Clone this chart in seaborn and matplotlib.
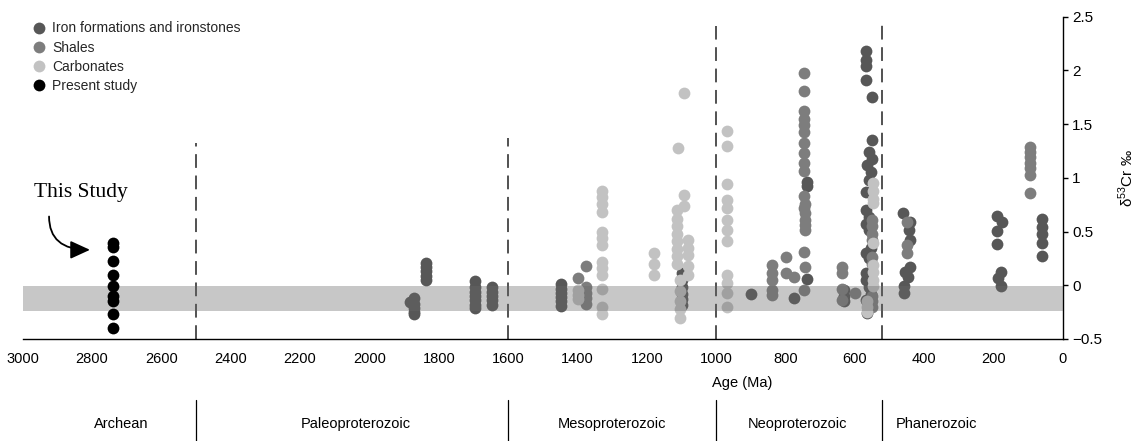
import numpy as np
import pandas as pd
import matplotlib
matplotlib.use("Agg")
import matplotlib.pyplot as plt
from matplotlib.lines import Line2D
import seaborn as sns

# ---- data: age (Ma) and delta53Cr (permil) per sample group ----
iron_age = [1884, 1872, 1872, 1872, 1872, 1872,
            1837, 1837, 1837, 1837, 1837,
            1697, 1697, 1697, 1697, 1697, 1697, 1697,
            1647, 1647, 1647, 1647, 1647,
            1449, 1449, 1449, 1449, 1449, 1449,
            1099, 1099, 1099, 1099, 1099, 1099,
            900, 739, 739, 739, 777,
            631, 631, 631,
            569, 569, 569, 569, 550, 550, 560, 550, 565, 555, 560, 569, 569, 560,
            569, 560, 555, 569, 560, 569, 569, 560, 555, 569, 560, 565,
            460, 441, 444, 441, 441, 456, 446, 458, 458,
            191, 177, 191, 191, 178, 187, 178,
            61, 61, 61, 61, 61]
iron_val = [-0.16, -0.12, -0.17, -0.21, -0.25, -0.27,
            0.21, 0.17, 0.13, 0.09, 0.05,
            0.04, -0.02, -0.06, -0.10, -0.14, -0.18, -0.21,
            -0.02, -0.06, -0.10, -0.14, -0.18,
            0.01, -0.03, -0.07, -0.11, -0.15, -0.19,
            0.11, 0.05, -0.02, -0.08, -0.13, -0.18,
            -0.08, 0.96, 0.92, 0.06, -0.12,
            -0.04, -0.10, -0.15,
            2.18, 2.10, 2.04, 1.91, 1.75, 1.35, 1.24, 1.18, 1.12, 1.05, 0.98, 0.87, 0.70,
            0.64, 0.57, 0.51, 0.35, 0.30, 0.25, 0.11, 0.05, -0.02, -0.08, -0.14, -0.20, -0.26,
            0.67, 0.59, 0.51, 0.42, 0.17, 0.12, 0.08, -0.01, -0.075,
            0.645, 0.59, 0.505, 0.38, 0.127, 0.065, -0.007,
            0.62, 0.545, 0.48, 0.39, 0.27]

shale_age = [1399, 1377, 1377, 1377, 1377, 1377,
             840, 840, 840, 840, 840, 798, 799, 777,
             748, 748, 748, 748, 748, 748, 748, 748, 748, 748, 748, 745, 748, 745, 745,
             745, 745, 748, 745, 748,
             638, 638, 638, 638, 599,
             550, 550, 550, 550, 550, 550, 550, 550, 550,
             450, 450, 450,
             95, 95, 95, 95, 95, 95, 95]
shale_val = [0.065, 0.18, -0.02, -0.07, -0.12, -0.17,
             0.19, 0.11, 0.05, -0.04, -0.09, 0.26, 0.11, 0.08,
             1.98, 1.81, 1.62, 1.55, 1.49, 1.43, 1.32, 1.23, 1.14, 1.06, 0.83, 0.76, 0.72, 0.67, 0.61,
             0.56, 0.51, 0.31, 0.17, -0.04,
             0.17, 0.11, -0.03, -0.14, -0.07,
             0.61, 0.55, 0.48, 0.42, 0.26, 0.20, -0.10, -0.15, -0.20,
             0.59, 0.375, 0.30,
             1.29, 1.24, 1.19, 1.14, 1.09, 1.03, 0.86]

carb_age = [1400, 1400, 1400,
            1328, 1328, 1328, 1328, 1328, 1328, 1328, 1328, 1328, 1328, 1328, 1328, 1328,
            1180, 1180, 1180,
            1092, 1111, 1092, 1092,
            1113, 1113, 1113, 1113, 1113, 1113, 1113, 1113,
            1082, 1082, 1082, 1082, 1082,
            1105, 1105, 1105, 1105, 1105,
            969, 969, 969, 969, 969, 969, 969, 969, 969, 969, 969, 969,
            548, 548, 548, 548, 548, 548, 548, 548, 548, 565, 565, 565]
carb_val = [-0.04, -0.09, -0.13,
            0.88, 0.825, 0.76, 0.685, 0.50, 0.44, 0.375, 0.22, 0.16, 0.096, -0.03, -0.20, -0.27,
            0.30, 0.20, 0.10,
            1.79, 1.28, 0.84, 0.74,
            0.70, 0.62, 0.55, 0.48, 0.41, 0.34, 0.27, 0.20,
            0.42, 0.35, 0.28, 0.18, 0.10,
            0.05, -0.05, -0.15, -0.22, -0.30,
            1.44, 1.30, 0.94, 0.79, 0.72, 0.61, 0.51, 0.41, 0.10, 0.02, -0.07, -0.20,
            0.95, 0.88, 0.80, 0.77, 0.39, 0.19, 0.12, 0.05, -0.01, -0.15, -0.20, -0.25]

study_age = [2741] * 9
study_val = [0.39, 0.36, 0.23, 0.10, -0.01, -0.10, -0.15, -0.27, -0.40]

groups = ["Iron formations and ironstones", "Shales", "Carbonates", "Present study"]
group_colors = ["#575757", "#7d7d7d", "#c2c2c2", "#000000"]

eon_names = ["Archean", "Paleoproterozoic", "Mesoproterozoic", "Neoproterozoic", "Phanerozoic"]
eon_label_age = [2717, 2040, 1300, 767, 366]
eon_bounds = [2500, 1600, 1000, 522]
bound_tops = [1.32, 1.37, 2.41, 2.42]

x_ticks = list(range(3000, -1, -200))
y_ticks = [2.5, 2, 1.5, 1, 0.5, 0, -0.5]
y_tick_labels = ["2.5", "2", "1.5", "1", "0.5", "0", "\u22120.5"]

# modern seawater / igneous inventory band
band_lo, band_hi = -0.24, -0.005

df = pd.concat([
    pd.DataFrame({"group": groups[0], "age": iron_age, "d53Cr": iron_val}),
    pd.DataFrame({"group": groups[1], "age": shale_age, "d53Cr": shale_val}),
    pd.DataFrame({"group": groups[2], "age": carb_age, "d53Cr": carb_val}),
    pd.DataFrame({"group": groups[3], "age": study_age, "d53Cr": study_val}),
], ignore_index=True)

# ---- figure ----
sns.set_theme(style="white")
plt.rcParams["font.family"] = ["Liberation Sans", "DejaVu Sans"]
plt.rcParams["mathtext.fontset"] = "custom"
plt.rcParams["mathtext.rm"] = "Liberation Sans"

W, H = 1142, 441
fig = plt.figure(figsize=(W / 100, H / 100), dpi=100)
ax = fig.add_axes([22.7 / W, 1 - 339 / H, (1063 - 22.7) / W, (339 - 16.7) / H])

DOT = 72
for g, c in zip(groups[:3], group_colors[:3]):
    sns.scatterplot(data=df[df["group"] == g], x="age", y="d53Cr", color=c,
                    s=DOT, linewidth=0, legend=False, ax=ax, zorder=2)

# translucent band drawn over the literature data
ax.axhspan(band_lo, band_hi, color="#686868", alpha=0.37, lw=0, zorder=3)

sns.scatterplot(data=df[df["group"] == groups[3]], x="age", y="d53Cr",
                color=group_colors[3], s=DOT, linewidth=0, legend=False, ax=ax, zorder=4)

# eon boundaries
for b, top in zip(eon_bounds, bound_tops):
    ax.plot([b, b], [-0.5, top], color="#222222", lw=1.1, ls=(0, (9, 5)), zorder=1,
            clip_on=False)

ax.set_xlim(3000, 0)
ax.set_ylim(-0.5, 2.5)
ax.set_xticks(x_ticks)
ax.set_xticklabels([str(t) for t in x_ticks])
ax.set_yticks(y_ticks)
ax.set_yticklabels(y_tick_labels)
ax.yaxis.tick_right()
ax.yaxis.set_label_position("right")
ax.tick_params(axis="x", direction="out", length=3.5, width=1, color="black",
               labelsize=10.5, pad=6, labelcolor="black")
ax.tick_params(axis="y", direction="out", length=3.5, width=1, color="black",
               labelsize=11, pad=3, labelcolor="black", right=True, left=False)
for side in ["left", "top"]:
    ax.spines[side].set_visible(False)
for side in ["bottom", "right"]:
    ax.spines[side].set_visible(True)
    ax.spines[side].set_color("black")
    ax.spines[side].set_linewidth(1)
ax.grid(False)
ax.set_xlabel("")
ax.set_ylabel(r"δ$^{53}$Cr ‰", fontsize=11, color="black")
ax.yaxis.set_label_coords((1117 - 22.7) / (1063 - 22.7), 0.5)

xt = ax.get_xaxis_transform()
ax.text(925, -0.137, "Age (Ma)", transform=xt, ha="center", va="center",
        fontsize=10.5, color="black")
for name, a in zip(eon_names, eon_label_age):
    ax.text(a, -0.264, name, transform=xt, ha="center", va="center",
            fontsize=10.5, color="black")
for b in eon_bounds:
    ax.plot([b, b], [-0.19, -0.33], transform=xt, color="black", lw=0.9, clip_on=False)

# annotation for the new samples
ax.text(2966, 0.86, "This Study", fontfamily="Liberation Serif", fontsize=15.5,
        ha="left", va="center", color="black")
ax.annotate("", xy=(2806, 0.33), xytext=(2924, 0.64),
            arrowprops=dict(arrowstyle="-|>,head_length=1.2,head_width=0.55",
                            connectionstyle="angle3,angleA=-90,angleB=0",
                            color="black", lw=1.3, mutation_scale=10,
                            shrinkA=0, shrinkB=0))

handles = [Line2D([], [], marker="o", ls="", markersize=8.5, markerfacecolor=c,
                  markeredgewidth=0) for c in group_colors]
ax.legend(handles, groups, loc="upper left", bbox_to_anchor=(32 / W, 1 - 21.5 / H),
          bbox_transform=fig.transFigure, frameon=False, fontsize=10,
          handlelength=1.0, handletextpad=0.45, labelspacing=0.38,
          borderpad=0, borderaxespad=0)

fig.savefig("out.png", dpi=100)
